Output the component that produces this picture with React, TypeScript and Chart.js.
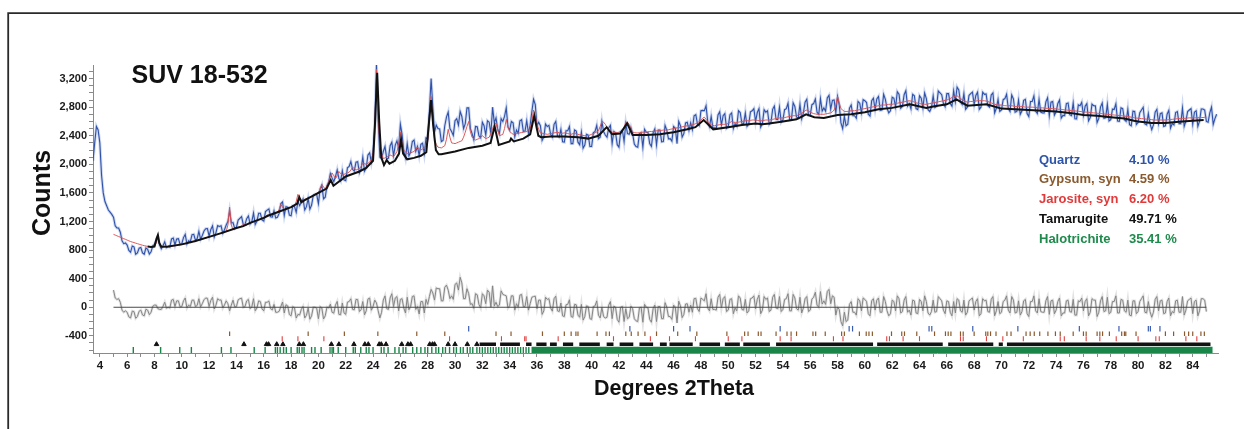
import React, { useEffect, useRef } from "react";
import { Chart, registerables } from "chart.js";

Chart.register(...registerables);

const FONT = "'Liberation Sans', Arial, Helvetica, sans-serif";

// ---- scan definition ----
const OBS_START = 3.5;
const CALC_START = 5.0;
const STEP = 0.125;

// observed counts, 3.5 .. 85.75 step 0.125
const observed = [
  2050, 2300, 2530, 2480, 2300, 1850, 1600, 1480, 1420, 1360, 1330, 1300,
  1260, 1140, 1110, 1110, 1050, 930, 890, 900,
  870, 795, 770, 858, 845, 742, 760, 826,
  835, 760, 742, 830, 812, 745, 776, 860,
  880, 930, 980, 870, 818, 860, 916, 835,
  850, 843, 956, 969, 872, 956, 960, 880,
  890, 975, 1020, 886, 932, 918, 1015, 1021,
  938, 960, 1062, 953, 1005, 1067, 1100, 1102,
  995, 1088, 1140, 983, 1045, 1142, 1130, 1140,
  1035, 1085, 1150, 1200, 1350, 1180, 1185, 1102,
  1120, 1221, 1245, 1268, 1160, 1158, 1240, 1278,
  1165, 1196, 1320, 1158, 1205, 1315, 1315, 1222,
  1205, 1339, 1360, 1375, 1265, 1260, 1350, 1249,
  1260, 1313, 1450, 1473, 1285, 1407, 1400, 1289,
  1280, 1418, 1410, 1329, 1480, 1421, 1470, 1517,
  1360, 1408, 1520, 1372, 1430, 1565, 1580, 1581,
  1450, 1657, 1710, 1516, 1540, 1701, 1750, 1873,
  1810, 1757, 1830, 1922, 1800, 1765, 1910, 1781,
  1770, 1952, 1970, 2039, 1930, 1904, 2030, 2038,
  1880, 1936, 2100, 1904, 1950, 2130, 2160, 2028,
  2160, 2550, 3390, 2600, 2100, 2080, 2180, 2250,
  2080, 2085, 2260, 2310, 2120, 2270, 2330, 2230,
  2560, 2420, 2190, 2090, 2290, 2120, 2170, 2320,
  2340, 2180, 2250, 2125, 2280, 2295, 2150, 2370,
  2360, 2750, 3200, 2800, 2450, 2550, 2500, 2495,
  2320, 2335, 2540, 2660, 2730, 2500, 2460, 2405,
  2610, 2640, 2550, 2740, 2670, 2500, 2570, 2790,
  2790, 2500, 2430, 2345, 2530, 2525, 2400, 2370,
  2590, 2540, 2410, 2610, 2590, 2430, 2800, 2580,
  2650, 2490, 2430, 2640, 2600, 2670, 2790, 2520,
  2480, 2600, 2580, 2385, 2480, 2435, 2610, 2625,
  2460, 2465, 2610, 2435, 2550, 2740, 2910, 2835,
  2540, 2590, 2540, 2335, 2380, 2565, 2530, 2545,
  2420, 2380, 2560, 2600, 2400, 2380, 2490, 2315,
  2310, 2470, 2470, 2530, 2290, 2290, 2480, 2465,
  2310, 2275, 2450, 2225, 2270, 2420, 2410, 2250,
  2250, 2440, 2460, 2545, 2360, 2380, 2600, 2460,
  2410, 2380, 2510, 2545, 2290, 2460, 2440, 2275,
  2240, 2460, 2480, 2320, 2570, 2430, 2420, 2515,
  2430, 2285, 2250, 2240, 2430, 2445, 2240, 2490,
  2450, 2445, 2290, 2250, 2440, 2495, 2270, 2480,
  2480, 2315, 2320, 2545, 2480, 2355, 2360, 2325,
  2530, 2505, 2290, 2600, 2540, 2380, 2430, 2580,
  2590, 2475, 2580, 2485, 2680, 2695, 2560, 2540,
  2750, 2755, 2750, 2820, 2590, 2525, 2670, 2515,
  2510, 2505, 2690, 2735, 2550, 2680, 2710, 2505,
  2530, 2695, 2720, 2500, 2570, 2535, 2750, 2725,
  2570, 2565, 2720, 2530, 2560, 2735, 2750, 2780,
  2600, 2725, 2780, 2520, 2570, 2765, 2730, 2750,
  2560, 2585, 2770, 2815, 2630, 2625, 2800, 2590,
  2620, 2765, 2780, 2855, 2620, 2625, 2860, 2810,
  2660, 2650, 2840, 2635, 2720, 2870, 2910, 2685,
  2690, 2835, 2850, 2915, 2730, 2700, 2920, 2745,
  2790, 2745, 2930, 2965, 2770, 2895, 2900, 2720,
  2950, 2830, 2580, 2500, 2670, 2540, 2560, 2785,
  2830, 2680, 2680, 2645, 2880, 2855, 2720, 2905,
  2890, 2865, 2700, 2675, 2890, 2925, 2770, 2915,
  2950, 2755, 2760, 2980, 2910, 2785, 2720, 2750,
  2940, 2925, 2800, 3015, 2980, 2785, 2810, 2975,
  3030, 2815, 2850, 2775, 2980, 2960, 2780, 2765,
  2960, 2925, 2790, 3000, 2920, 2765, 2740, 2795,
  2960, 2795, 2810, 3025, 3000, 2975, 2850, 2805,
  2990, 2990, 2850, 2815, 3030, 2875, 3080, 3040,
  2870, 2835, 2990, 2770, 2800, 2965, 2990, 3010,
  2840, 2965, 3010, 2770, 2800, 3010, 2980, 2985,
  2820, 2800, 2970, 3000, 2720, 2785, 2910, 2740,
  2760, 2905, 2920, 2980, 2780, 2740, 2970, 2915,
  2730, 2740, 2900, 2700, 2750, 2895, 2910, 2710,
  2670, 2880, 2880, 2958, 2745, 2712, 2910, 2730,
  2720, 2718, 2875, 2932, 2680, 2870, 2880, 2688,
  2735, 2852, 2900, 2648, 2685, 2682, 2850, 2858,
  2695, 2682, 2860, 2638, 2635, 2832, 2820, 2868,
  2685, 2812, 2850, 2608, 2655, 2842, 2820, 2818,
  2585, 2642, 2800, 2858, 2645, 2652, 2840, 2608,
  2625, 2772, 2770, 2848, 2605, 2602, 2790, 2778,
  2625, 2602, 2770, 2555, 2540, 2745, 2740, 2558,
  2585, 2722, 2760, 2798, 2565, 2552, 2710, 2568,
  2485, 2552, 2730, 2770, 2570, 2710, 2720, 2530,
  2540, 2702, 2755, 2508, 2570, 2552, 2725, 2738,
  2570, 2570, 2790, 2532, 2605, 2738, 2760, 2780,
  2560, 2730, 2750, 2532, 2605, 2775, 2775, 2758,
  2600, 2590, 2720, 2800, 2560, 2640, 2700,
];

// calculated (fitted) counts, 5.0 .. 85.0 step 0.125
const calculated = [
  1020, 1010, 1000, 990, 980, 970, 960, 950,
  940, 930, 920, 912, 905, 897, 890, 882,
  875, 868, 862, 857, 852, 849, 846, 846,
  850, 900, 1000, 900, 848, 847, 846, 848,
  850, 853, 856, 859, 862, 866, 870, 875,
  880, 885, 890, 896, 902, 908, 915, 921,
  928, 935, 942, 948, 955, 962, 970, 977,
  985, 992, 1000, 1007, 1015, 1022, 1030, 1037,
  1045, 1052, 1060, 1150, 1400, 1150, 1085, 1097,
  1110, 1117, 1125, 1140, 1160, 1150, 1150, 1167,
  1185, 1192, 1200, 1207, 1215, 1225, 1235, 1245,
  1255, 1270, 1290, 1287, 1285, 1297, 1310, 1320,
  1330, 1370, 1440, 1400, 1365, 1372, 1380, 1390,
  1400, 1410, 1420, 1480, 1580, 1530, 1500, 1505,
  1510, 1520, 1530, 1540, 1550, 1565, 1580, 1595,
  1610, 1650, 1720, 1680, 1660, 1700, 1760, 1830,
  1880, 1840, 1800, 1840, 1900, 1870, 1850, 1860,
  1870, 1880, 1890, 1920, 1960, 1940, 1920, 1930,
  1940, 1970, 2020, 2010, 2000, 2015, 2030, 2070,
  2150, 2450, 3330, 2650, 2250, 2150, 2080, 2090,
  2100, 2115, 2130, 2120, 2110, 2140, 2180, 2280,
  2450, 2300, 2200, 2170, 2150, 2155, 2160, 2170,
  2180, 2210, 2240, 2220, 2200, 2215, 2230, 2260,
  2320, 2600, 2950, 2600, 2350, 2280, 2240, 2235,
  2230, 2245, 2260, 2350, 2490, 2380, 2300, 2295,
  2290, 2300, 2310, 2320, 2330, 2380, 2450, 2530,
  2600, 2460, 2380, 2360, 2340, 2350, 2360, 2380,
  2400, 2380, 2360, 2370, 2380, 2430, 2500, 2560,
  2580, 2480, 2400, 2410, 2420, 2500, 2630, 2530,
  2460, 2440, 2420, 2425, 2430, 2435, 2440, 2445,
  2450, 2455, 2460, 2475, 2500, 2600, 2760, 2680,
  2560, 2490, 2440, 2435, 2430, 2425, 2420, 2425,
  2430, 2435, 2440, 2445, 2450, 2440, 2430, 2435,
  2440, 2435, 2430, 2425, 2420, 2430, 2440, 2430,
  2420, 2415, 2410, 2405, 2400, 2400, 2400, 2410,
  2420, 2430, 2440, 2455, 2470, 2530, 2600, 2590,
  2560, 2520, 2480, 2465, 2450, 2445, 2440, 2445,
  2450, 2460, 2470, 2520, 2590, 2590, 2560, 2500,
  2450, 2445, 2440, 2440, 2440, 2445, 2450, 2450,
  2450, 2455, 2460, 2460, 2460, 2465, 2470, 2470,
  2470, 2475, 2480, 2480, 2480, 2485, 2490, 2495,
  2500, 2505, 2510, 2515, 2520, 2525, 2530, 2535,
  2540, 2545, 2550, 2555, 2560, 2570, 2580, 2600,
  2620, 2645, 2660, 2630, 2600, 2575, 2550, 2545,
  2540, 2545, 2550, 2555, 2560, 2560, 2560, 2565,
  2570, 2585, 2600, 2590, 2580, 2585, 2590, 2595,
  2600, 2605, 2610, 2610, 2610, 2615, 2620, 2620,
  2620, 2615, 2610, 2610, 2610, 2615, 2620, 2620,
  2620, 2625, 2630, 2635, 2640, 2645, 2650, 2650,
  2650, 2655, 2660, 2665, 2670, 2675, 2680, 2680,
  2680, 2690, 2700, 2715, 2730, 2750, 2760, 2745,
  2730, 2720, 2710, 2705, 2700, 2700, 2700, 2700,
  2700, 2705, 2710, 2715, 2720, 2735, 2760, 2830,
  2950, 2860, 2780, 2760, 2740, 2740, 2740, 2745,
  2750, 2750, 2750, 2755, 2760, 2765, 2770, 2775,
  2780, 2785, 2790, 2795, 2800, 2805, 2810, 2815,
  2820, 2825, 2830, 2830, 2830, 2835, 2840, 2840,
  2840, 2845, 2850, 2855, 2860, 2865, 2870, 2875,
  2880, 2885, 2890, 2885, 2880, 2870, 2860, 2855,
  2850, 2845, 2840, 2840, 2840, 2845, 2850, 2855,
  2860, 2865, 2870, 2875, 2880, 2885, 2890, 2895,
  2900, 2910, 2920, 2935, 2950, 2955, 2960, 2940,
  2920, 2905, 2890, 2880, 2870, 2875, 2880, 2880,
  2880, 2885, 2890, 2890, 2890, 2890, 2890, 2885,
  2880, 2870, 2860, 2850, 2840, 2835, 2830, 2830,
  2830, 2825, 2820, 2820, 2820, 2820, 2820, 2815,
  2810, 2810, 2810, 2810, 2810, 2805, 2800, 2800,
  2800, 2800, 2800, 2798, 2795, 2792, 2790, 2790,
  2790, 2788, 2785, 2782, 2780, 2780, 2780, 2778,
  2775, 2772, 2770, 2768, 2765, 2762, 2760, 2758,
  2755, 2752, 2750, 2748, 2745, 2742, 2740, 2738,
  2735, 2732, 2730, 2728, 2725, 2722, 2720, 2718,
  2715, 2712, 2710, 2708, 2705, 2702, 2700, 2698,
  2695, 2692, 2690, 2688, 2685, 2682, 2680, 2678,
  2675, 2672, 2670, 2665, 2660, 2655, 2650, 2648,
  2645, 2642, 2640, 2638, 2635, 2632, 2630, 2628,
  2625, 2622, 2620, 2620, 2620, 2620, 2620, 2620,
  2620, 2622, 2625, 2628, 2630, 2632, 2635, 2638,
  2640, 2640, 2640, 2642, 2645, 2648, 2650, 2650,
  2650, 2650, 2650, 2652, 2655, 2655, 2655, 2658,
  2660,
];

// Tamarugite + background profile (2theta, counts)
const tamarugiteX = [
  7.5, 7.75, 8.0, 8.15, 8.25, 8.35, 8.5, 9, 10, 11, 12, 13, 14, 14.5, 15, 16, 16.3, 17, 18, 18.45, 18.6, 18.75,
  19, 20, 20.6, 20.9, 21.1, 22, 23, 23.5, 24.0, 24.15, 24.3, 24.45, 24.6, 24.8, 25.0, 25.2, 25.6, 25.9, 26.05,
  26.2, 26.5, 27, 27.5, 27.9, 28.1, 28.25, 28.4, 28.6, 28.8, 29, 30, 31, 32, 32.6, 32.9, 33.2, 34, 34.1, 34.3,
  35, 35.5, 35.8, 36.1, 36.3, 37, 38, 39, 39.75, 40.5, 41.1, 41.5, 42.1, 42.6, 43, 44, 45, 46, 47, 47.6, 48.2,
  48.9, 50, 51, 52, 52.5, 53, 54, 55, 55.7, 56.3, 57, 58, 59, 60, 61, 62, 63.3, 64.5, 65, 66, 66.7, 67.5, 68.9,
  70, 71, 72, 73, 74, 75, 76, 77, 78, 79, 79.7, 80, 81, 82, 83, 84, 84.8,
];
const tamarugiteY = [
  850, 845, 850, 960, 1010, 900, 848, 850, 880, 928, 985, 1045, 1110, 1135, 1180, 1250, 1280, 1330, 1400, 1450, 1540, 1470,
  1500, 1600, 1660, 1780, 1700, 1830, 1900, 1950, 2050, 2600, 3280, 2600, 2100, 1990, 2060, 2010, 2050, 2150, 2350,
  2150, 2070, 2090, 2120, 2170, 2600, 2900, 2550, 2200, 2140, 2140, 2180, 2230, 2260, 2300, 2530, 2270, 2320, 2360, 2320,
  2360, 2420, 2680, 2400, 2380, 2390, 2390, 2380, 2360, 2400, 2520, 2420, 2430, 2575, 2410, 2410, 2420, 2450, 2490, 2520, 2620,
  2490, 2520, 2550, 2570, 2560, 2570, 2600, 2630, 2700, 2660, 2650, 2690, 2700, 2730, 2770, 2790, 2840, 2790, 2810, 2840, 2910, 2820, 2840,
  2780, 2770, 2760, 2750, 2740, 2720, 2690, 2680, 2660, 2640, 2610, 2600, 2580, 2580, 2595, 2610, 2620,
];

// ---- phase reflection markers (2theta) ----
const quartzPeaks = [31.0, 42.8, 46.0, 47.2, 53.8, 58.85, 59.1, 64.7, 64.9, 67.9, 71.2, 75.7, 78.6, 80.75, 80.9, 81.6];
const gypsumPeaks = [
  13.5, 19.25, 21.9, 24.35, 27.2, 29.25, 33.0, 34.1, 36.4, 38.0, 38.5, 38.85, 39.0, 40.4, 41.05, 41.3, 42.5, 42.9,
  43.4, 43.9, 44.75, 46.3, 47.7, 49.9, 51.2, 51.45, 52.2, 52.4, 53.5, 54.3, 54.6, 55.0, 56.2, 56.4, 57.1, 58.3, 58.5,
  59.6, 60.1, 60.3, 60.55, 61.95, 62.7, 62.9, 63.8, 65.1, 65.9, 66.1, 66.3, 67.0, 67.2, 68.0, 68.85, 69.0, 69.2, 69.6,
  70.4, 70.7, 71.8, 72.1, 72.4, 72.8, 73.4, 73.95, 74.3, 75.25, 76.0, 76.2, 77.0, 77.2, 77.4, 77.9, 78.8, 79.0, 79.1,
  79.85, 82.0, 82.6, 83.4, 83.7, 84.0, 84.6, 84.85,
];
const jarositePeaks = [
  17.35, 18.5, 20.4, 29.6, 33.4, 35.1, 35.2, 37.55, 41.6, 44.3, 45.7, 47.6, 50.0, 51.0, 53.8, 54.6, 57.7, 58.4, 61.6,
  61.8, 62.8, 64.0, 67.0, 67.2, 68.9, 70.1, 71.6, 74.3, 74.6, 76.2, 77.2, 78.4, 80.0, 81.3, 81.55, 83.5, 84.3,
];
const tamarugitePeaks = [
  8.15, 14.55, 16.2, 16.35, 16.95, 17.4, 18.6, 18.9, 20.95, 21.5, 22.6, 23.4, 23.65, 24.45, 24.6, 24.95, 26.1, 26.55,
  26.75, 28.15, 28.35, 28.5, 29.5, 30.0, 30.9, 31.6,
];
const tamarugiteDenseRanges = [
  [31.8, 33.0], [33.3, 34.75], [35.2, 35.6], [35.95, 36.7], [36.95, 37.45], [37.9, 38.65], [39.1, 40.6], [41.1, 41.6],
  [42.05, 43.05], [43.5, 44.5], [45.0, 45.5], [45.7, 47.4], [47.9, 49.4], [49.75, 50.85], [51.1, 53.05], [53.5, 60.6],
  [60.9, 65.7], [66.1, 69.4], [69.8, 70.1], [70.4, 85.3],
];
const halotrichitePeaks = [
  6.45, 8.45, 9.85, 10.7, 12.9, 13.6, 15.3, 16.1, 16.85, 17.0, 17.2, 17.45, 17.65, 18.0, 18.45, 18.6, 18.8, 18.95,
  19.5, 19.75, 20.2, 20.85, 21.0, 21.1, 21.45, 22.0, 22.55, 22.7, 23.1, 23.5, 23.7, 24.0, 24.6, 24.8, 25.1, 25.6,
  25.9, 26.2, 26.4, 26.9, 27.2, 27.5, 27.8, 28.0, 28.3, 28.6, 28.8, 29.1, 29.3, 29.6, 29.9, 30.1, 30.4, 30.6, 30.9,
  31.1, 31.3, 31.6, 31.8, 32.0, 32.2, 32.4, 32.6, 32.8, 33.0, 33.2, 33.4, 33.6, 33.8, 34.0, 34.2, 34.4, 34.6, 34.8,
  35.0, 35.2, 35.4,
];
const halotrichiteDenseRanges = [[35.6, 85.45]];

// marker rows (counts level of each phase's tick row)
const ROW_QUARTZ = -300;
const ROW_GYPSUM = -370;
const ROW_JAROSITE = -440;
const ROW_TAMARUGITE = -518;
const ROW_HALOTRICHITE = -598;

// ---- legend / text ----
const TITLE = "SUV 18-532";
const phaseNames = ["Quartz", "Gypsum, syn", "Jarosite, syn", "Tamarugite", "Halotrichite"];
const phasePercents = ["4.10 %", "4.59 %", "6.20 %", "49.71 %", "35.41 %"];
const phaseColors = ["#2f55a8", "#8a5a2e", "#e03a3a", "#111111", "#1e8a4c"];

const X_MIN = 3.5;
const X_MAX = 85.85;
const Y_MIN = -640;
const Y_MAX = 3390;
const X_TICKS = Array.from({ length: 82 }, (_, i) => 4 + i);
const Y_TICKS = Array.from({ length: 40 }, (_, i) => -600 + i * 100);

function pointsFrom(start: number, values: number[]) {
  return values.map((y, i) => ({ x: start + i * STEP, y }));
}
function rangesToLine(ranges: number[][], y: number) {
  const out: { x: number; y: number | null }[] = [];
  ranges.forEach(([a, b]) => {
    out.push({ x: a, y }, { x: b, y }, { x: b + 0.01, y: null });
  });
  return out;
}
function markers(xs: number[], y: number) {
  return xs.map((x) => ({ x, y }));
}

const annotations = {
  id: "annotations",
  afterDraw(chart: any) {
    const c = chart.ctx as CanvasRenderingContext2D;
    c.save();
    c.strokeStyle = "#2a2a2a";
    c.lineWidth = 1.8;
    c.beginPath();
    c.moveTo(8.2, 429);
    c.lineTo(8.2, 13.2);
    c.lineTo(1244, 13.2);
    c.stroke();

    c.fillStyle = "#111";
    c.textBaseline = "alphabetic";
    c.textAlign = "left";
    c.font = `bold 25px ${FONT}`;
    c.fillText(TITLE, 131.5, 82.5);

    c.save();
    c.translate(50, 193);
    c.rotate(-Math.PI / 2);
    c.textAlign = "center";
    c.font = `bold 25px ${FONT}`;
    c.fillText("Counts", 0, 0);
    c.restore();

    c.textAlign = "center";
    c.font = `bold 21.5px ${FONT}`;
    c.fillText("Degrees 2Theta", 674, 395);

    c.textAlign = "left";
    c.font = `bold 13px ${FONT}`;
    phaseNames.forEach((n, i) => {
      c.fillStyle = phaseColors[i];
      const y = 163.5 + i * 19.8;
      c.fillText(n, 1039, y);
      c.fillText(phasePercents[i], 1129, y);
    });
    c.restore();
  },
};

export default function App() {
  const ref = useRef<HTMLCanvasElement>(null);
  useEffect(() => {
    const obsPts = pointsFrom(OBS_START, observed);
    const calcPts = pointsFrom(CALC_START, calculated);
    const offset = Math.round((CALC_START - OBS_START) / STEP);
    const diffPts = calculated.map((v, i) => ({ x: CALC_START + i * STEP, y: observed[i + offset] - v }));
    const blackPts = tamarugiteX.map((x, i) => ({ x, y: tamarugiteY[i] }));
    const lastCalcX = CALC_START + (calculated.length - 1) * STEP;

    const lineDs = (label: string, data: any[], color: string, width: number, order: number) => ({
      label,
      data,
      showLine: true,
      borderColor: color,
      borderWidth: width,
      pointRadius: 0,
      fill: false,
      tension: 0,
      spanGaps: false,
      order,
    });
    const tickDs = (label: string, xs: number[], y: number, color: string, r: number, w: number, order: number) => ({
      label,
      data: markers(xs, y),
      showLine: false,
      pointStyle: "line",
      rotation: 90,
      pointRadius: r,
      pointBorderWidth: w,
      borderColor: color,
      pointBorderColor: color,
      backgroundColor: color,
      order,
    });

    const chart = new Chart(ref.current!, {
      type: "scatter",
      data: {
        datasets: [
          lineDs("zero", [{ x: CALC_START, y: 0 }, { x: lastCalcX, y: 0 }], "#4a4a4a", 1, 0),
          lineDs("Tamarugite", blackPts, "#111111", 2, 1),
          lineDs("Calculated", calcPts, "rgba(222,80,80,0.95)", 1, 2),
          lineDs("Observed", obsPts, "#2f52a8", 1.1, 3),
          lineDs("Observed halo", obsPts, "rgba(80,115,205,0.28)", 3, 3.5),
          lineDs("Difference", diffPts, "#858585", 1, 4),
          lineDs("Difference halo", diffPts, "rgba(140,140,140,0.25)", 2.6, 4.5),
          tickDs("Quartz ticks", quartzPeaks, ROW_QUARTZ, "#3a5cb0", 2.8, 1.2, 5),
          tickDs("Gypsum ticks", gypsumPeaks, ROW_GYPSUM, "#8a5a2e", 2.3, 1.2, 5),
          tickDs("Jarosite ticks", jarositePeaks, ROW_JAROSITE, "#e04040", 2.5, 1.1, 5),
          lineDs("Tamarugite band", rangesToLine(tamarugiteDenseRanges, ROW_TAMARUGITE), "#111111", 3.5, 5),
          {
            label: "Tamarugite ticks",
            data: markers(tamarugitePeaks, ROW_TAMARUGITE),
            showLine: false,
            pointStyle: "triangle",
            pointRadius: 2.6,
            pointBorderWidth: 1,
            borderColor: "#111",
            pointBorderColor: "#111",
            backgroundColor: "#111",
            pointBackgroundColor: "#111",
            order: 5,
          },
          lineDs("Halotrichite band", rangesToLine(halotrichiteDenseRanges, ROW_HALOTRICHITE), "#1a8548", 6.5, 6),
          tickDs("Halotrichite ticks", halotrichitePeaks, ROW_HALOTRICHITE, "#1a8548", 3, 1.4, 6),
        ] as any,
      },
      options: {
        animation: false,
        responsive: true,
        maintainAspectRatio: false,
        events: [],
        layout: { padding: { top: 65, right: 26, left: 0, bottom: 0 } },
        plugins: { legend: { display: false }, tooltip: { enabled: false }, title: { display: false } },
        scales: {
          x: {
            type: "linear",
            min: X_MIN,
            max: X_MAX,
            afterBuildTicks: (s: any) => {
              s.ticks = X_TICKS.map((v) => ({ value: v }));
            },
            afterFit: (s: any) => {
              s.height = 76;
            },
            grid: { drawOnChartArea: false, drawTicks: true, tickLength: 4, color: "#8a8a8a" },
            border: { display: true, color: "#8a8a8a", width: 1 },
            ticks: {
              autoSkip: false,
              maxRotation: 0,
              padding: 2,
              color: "#1a1a1a",
              font: { family: FONT, size: 11.5, weight: "bold" },
              callback: (v: any) => (Number(v) % 2 === 0 ? String(v) : ""),
            },
          },
          y: {
            type: "linear",
            min: Y_MIN,
            max: Y_MAX,
            afterBuildTicks: (s: any) => {
              s.ticks = Y_TICKS.map((v) => ({ value: v }));
            },
            afterFit: (s: any) => {
              s.width = 93;
            },
            grid: { drawOnChartArea: false, drawTicks: true, tickLength: 4, color: "#8a8a8a" },
            border: { display: true, color: "#8a8a8a", width: 1 },
            ticks: {
              autoSkip: false,
              padding: 2,
              color: "#1a1a1a",
              font: { family: FONT, size: 11, weight: "bold" },
              callback: (v: any) => {
                const n = Number(v);
                return n % 400 === 0 && n >= -400 ? n.toLocaleString("en-US") : "";
              },
            },
          },
        },
      } as any,
      plugins: [annotations],
    });
    return () => chart.destroy();
  }, []);

  return (
    <div style={{ position: "fixed", left: 0, top: 0, width: 1244, height: 429, background: "#fff" }}>
      <canvas ref={ref} />
    </div>
  );
}
